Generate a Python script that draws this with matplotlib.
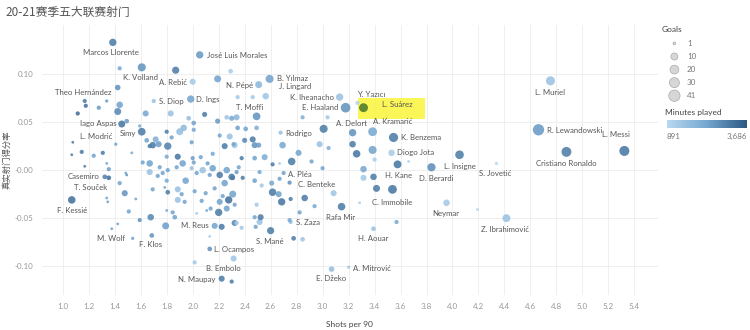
import numpy as np
import matplotlib
matplotlib.use('Agg')
import matplotlib.pyplot as plt
from matplotlib.colors import LinearSegmentedColormap, Normalize
from matplotlib.patches import Rectangle
from matplotlib.colorbar import ColorbarBase

plt.rcParams['font.family'] = ['Lato', 'Noto Sans CJK SC', 'DejaVu Sans']

# labelled players
names = ['Marcos Llorente', 'José Luis Morales', 'K. Volland', 'A. Rebić', 'Theo Hernández',
         'S. Diop', 'D. Ings', 'N. Pépé', 'B. Yılmaz', 'J. Lingard',
         'T. Moffi', 'K. Iheanacho', 'Y. Yazıcı', 'L. Suárez', 'E. Haaland',
         'A. Delort', 'A. Kramarić', 'K. Benzema', 'Rodrigo', 'Diogo Jota',
         'L. Insigne', 'S. Jovetić', 'Cristiano Ronaldo', 'L. Messi', 'R. Lewandowski',
         'L. Muriel', 'A. Pléa', 'C. Benteke', 'H. Kane', 'D. Berardi',
         'C. Immobile', 'Neymar', 'Z. Ibrahimović', 'Rafa Mir', 'S. Zaza',
         'H. Aouar', 'S. Mané', 'A. Mitrović', 'E. Džeko', 'M. Reus',
         'L. Ocampos', 'B. Embolo', 'N. Maupay', 'F. Klos', 'M. Wolf',
         'F. Kessié', 'Casemiro', 'T. Souček', 'Iago Aspas', 'L. Modrić',
         'Simy']
shots = [1.385, 2.054, 1.608, 1.869, 1.423, 1.700, 1.985, 2.508, 2.592, 2.562,
         2.492, 3.131, 3.269, 3.315, 3.177, 3.231, 3.385, 3.546, 2.677, 3.531,
         4.054, 4.338, 4.877, 5.323, 4.662, 4.754, 2.700, 2.746, 3.392, 3.838,
         3.538, 3.954, 4.415, 3.146, 2.754, 3.392, 2.600, 3.200, 3.069, 2.169,
         2.131, 2.315, 2.223, 1.685, 1.538, 1.069, 1.323, 1.354, 1.454, 1.408,
         1.608]
rate = [0.133, 0.120, 0.107, 0.104, 0.086, 0.072, 0.074, 0.089, 0.095, 0.077,
        0.056, 0.076, 0.070, 0.065, 0.065, 0.039, 0.040, 0.034, 0.039, 0.018,
        0.016, 0.007, 0.019, 0.020, 0.042, 0.093, -0.003, -0.013, -0.007, 0.003,
        -0.020, -0.034, -0.050, -0.038, -0.054, -0.061, -0.063, -0.101, -0.103, -0.058,
        -0.082, -0.092, -0.113, -0.068, -0.071, -0.031, -0.007, -0.008, 0.048, 0.027,
        0.040]
goals = [12, 12, 16, 11, 7, 4, 12, 10, 16, 9,
         14, 12, 4, 21, 27, 12, 20, 23, 4, 9,
         19, 2, 29, 30, 41, 22, 4, 4, 9, 17,
         20, 9, 15, 13, 4, 5, 11, 2, 7, 8,
         5, 8, 8, 5, 2, 13, 5, 5, 10, 2,
         14]
minutes = [3000, 2500, 2600, 3000, 2600, 1500, 2300, 1800, 2300, 1400,
           2600, 1500, 1000, 2800, 2600, 2600, 2200, 3000, 1500, 1200,
           3000, 900, 3000, 3100, 2500, 1500, 2300, 2600, 3000, 2700,
           3100, 1300, 1500, 3000, 1500, 1500, 3000, 1300, 1600, 2300,
           2600, 1400, 3000, 2600, 2300, 3200, 2900, 3200, 3100, 2300,
           3000]

# the other players (no label)
other_shots = [1.438, 2.000, 2.192, 2.292, 1.169, 1.177, 1.338, 1.277, 1.438, 1.423,
               1.115, 1.638, 1.831, 2.092, 1.969, 2.008, 2.192, 2.262, 2.300, 2.338,
               1.492, 1.592, 1.646, 1.715, 1.692, 1.738, 1.669, 1.800, 1.838, 1.900,
               1.931, 2.008, 1.992, 1.808, 1.885, 1.800, 2.208, 2.285, 2.315, 2.246,
               2.154, 2.000, 1.077, 1.069, 1.146, 1.238, 1.308, 1.531, 2.346, 2.462,
               2.846, 3.038, 3.008, 2.408, 2.492, 2.346, 2.400, 2.462, 2.477, 2.508,
               2.323, 2.692, 2.815, 2.977, 3.046, 3.231, 3.262, 3.385, 3.400, 3.577,
               3.662, 2.377, 2.477, 2.554, 2.615, 2.669, 2.762, 2.915, 3.000, 2.338,
               2.385, 2.515, 2.669, 2.531, 2.477, 2.308, 2.608, 3.315, 3.315, 3.415,
               3.285, 3.085, 2.938, 2.862, 2.754, 2.823, 2.746, 2.477, 2.338, 3.569,
               2.615, 2.662, 2.685, 2.492, 2.523, 2.515, 2.377, 2.485, 2.777, 2.846,
               1.169, 1.338, 1.354, 1.438, 1.485, 1.492, 1.477, 1.338, 1.346, 1.562,
               1.508, 1.423, 1.377, 1.592, 1.677, 1.792, 1.846, 1.862, 1.800, 2.031,
               1.669, 1.731, 1.769, 1.808, 1.800, 1.785, 1.808, 1.885, 1.915, 1.885,
               1.938, 1.946, 2.015, 2.069, 2.100, 2.138, 2.108, 2.169, 2.208, 2.231,
               2.277, 2.308, 2.200, 2.262, 2.323, 2.323, 2.223, 2.131, 2.015, 2.300,
               1.669, 1.746, 1.877, 1.923, 1.992, 2.031, 2.077, 2.115, 2.154, 2.208,
               2.262, 2.300, 2.354, 2.131, 2.246, 1.615, 1.692, 2.008, 2.062, 4.192]
other_rate = [0.106, 0.092, 0.095, 0.103, 0.072, 0.067, 0.072, 0.065, 0.068, 0.061,
              0.059, 0.059, 0.059, 0.058, 0.054, 0.049, 0.051, 0.055, 0.054, 0.055,
              0.051, 0.046, 0.031, 0.032, 0.026, 0.027, 0.025, 0.040, 0.034, 0.040,
              0.044, 0.042, 0.029, 0.025, 0.014, 0.014, 0.036, 0.035, 0.027, 0.025,
              0.017, 0.0125, 0.029, 0.016, 0.019, 0.015, 0.018, 0.018, 0.076, 0.076,
              0.055, 0.055, 0.043, 0.043, 0.044, 0.044, 0.031, 0.032, 0.026, 0.026,
              0.026, 0.026, 0.018, 0.027, 0.023, 0.027, 0.017, 0.021, 0.011, 0.006,
              0.009, 0.0125, 0.0125, 0.0135, 0.006, 0.007, 0.009, 0.009, 0.002, -0.002,
              -0.008, -0.002, -0.009, -0.016, -0.011, -0.008, -0.0135, 0.001, -0.008, -0.019,
              -0.034, -0.024, -0.0375, -0.029, -0.030, -0.044, -0.052, -0.049, -0.055, -0.054,
              -0.023, -0.025, -0.033, -0.036, -0.049, -0.054, -0.060, -0.059, -0.071, -0.072,
              0.004, 0.007, 0.001, -0.0135, -0.003, -0.005, -0.024, -0.029, -0.033, -0.030,
              -0.043, -0.056, -0.061, -0.052, -0.049, -0.058, -0.044, -0.049, -0.042, -0.045,
              -0.002, -0.006, -0.003, 0.000, -0.011, -0.018, -0.023, -0.020, -0.025, -0.031,
              -0.033, -0.011, -0.022, -0.032, -0.024, -0.040, -0.042, -0.019, -0.033, -0.027,
              -0.031, -0.025, -0.044, -0.040, -0.036, -0.055, -0.059, -0.069, -0.096, -0.116,
              0.007, 0.003, 0.003, 0.007, 0.002, -0.003, 0.000, 0.007, 0.002, -0.005,
              0.000, -0.007, 0.003, -0.005, -0.0135, 0.008, -0.020, 0.008, 0.0135, -0.041]
other_goals = [4, 8, 10, 5, 4, 4, 2, 4, 9, 10,
               4, 8, 8, 6, 5, 5, 6, 5, 6, 8,
               5, 2, 5, 8, 9, 8, 4, 4, 4, 10,
               9, 4, 4, 12, 8, 4, 4, 8, 4, 8,
               4, 4, 1, 1, 4, 4, 4, 1, 4, 4,
               4, 4, 16, 5, 5, 5, 6, 8, 8, 6,
               8, 9, 8, 8, 4, 9, 13, 16, 4, 15,
               1, 4, 5, 8, 4, 1, 13, 4, 4, 4,
               4, 4, 4, 4, 5, 5, 6, 9, 8, 10,
               1, 8, 4, 9, 4, 4, 4, 4, 4, 4,
               13, 8, 12, 4, 8, 8, 4, 4, 5, 5,
               1, 1, 4, 4, 1, 1, 8, 1, 1, 1,
               4, 1, 1, 4, 9, 10, 4, 5, 1, 1,
               8, 4, 4, 4, 4, 1, 5, 8, 4, 8,
               4, 9, 4, 4, 4, 4, 1, 4, 8, 4,
               12, 10, 12, 8, 4, 8, 8, 1, 4, 4,
               9, 4, 4, 9, 4, 4, 9, 4, 9, 9,
               9, 9, 4, 4, 9, 4, 4, 4, 4, 1]
other_minutes = [2200, 1300, 2300, 1200, 3000, 3200, 2400, 2500, 2300, 2800,
                 3300, 2200, 1500, 3000, 1600, 2300, 2500, 1400, 2200, 1800,
                 2400, 2200, 2300, 2000, 3000, 2400, 3000, 3000, 2300, 1600,
                 1700, 2200, 2300, 2900, 3100, 2200, 2300, 1500, 2300, 3000,
                 2200, 2400, 3000, 3000, 3000, 2300, 3000, 2200, 1300, 1300,
                 2000, 1300, 3000, 2300, 2000, 2300, 2800, 3000, 2600, 2400,
                 1400, 2200, 2300, 1500, 2000, 3000, 3100, 2300, 1200, 3100,
                 1100, 3000, 2300, 2100, 3000, 1300, 3000, 2300, 2300, 2400,
                 3000, 2200, 2300, 1300, 2300, 3000, 2200, 2200, 1300, 3000,
                 1100, 1400, 2200, 3000, 3000, 2300, 2200, 2300, 1300, 2200,
                 3000, 2300, 3100, 1300, 3000, 1500, 1300, 2300, 3000, 1400,
                 3000, 2300, 2400, 2300, 2300, 2600, 2600, 2300, 2300, 2300,
                 2300, 2300, 2300, 2600, 2800, 2400, 2300, 2300, 2300, 1300,
                 1500, 2300, 2300, 2300, 2200, 2300, 3000, 1500, 2300, 1500,
                 2300, 2300, 2300, 2300, 2300, 2300, 2300, 2300, 2300, 2300,
                 3200, 2300, 3000, 2300, 2300, 2800, 3000, 1200, 1300, 3000,
                 2300, 2300, 2300, 2300, 1500, 2300, 1500, 2300, 2300, 3000,
                 2300, 3000, 2300, 2300, 2300, 2300, 2300, 2300, 2300, 1000]

legend_goals = [1, 10, 20, 30, 41]
min_lo, min_hi = 891, 3686
highlight = 'L. Suárez'

# label offsets in pixels (dx, dy down), alignment
label_pos = {
    'Marcos Llorente': (-2, 10, 'center'), 'José Luis Morales': (7, 1, 'left'),
    'K. Volland': (-1, 10, 'center'), 'A. Rebić': (-3, 12, 'center'),
    'Theo Hernández': (-34, 5, 'center'), 'S. Diop': (5, 1, 'left'),
    'D. Ings': (5, 0, 'left'), 'N. Pépé': (-6, 1, 'right'),
    'B. Yılmaz': (7, 0, 'left'), 'J. Lingard': (13, -10, 'left'),
    'T. Moffi': (-7, -9, 'center'), 'K. Iheanacho': (-6, 0, 'right'),
    'Y. Yazıcı': (14, -8, 'center'), 'L. Suárez': (18, -3, 'left'),
    'E. Haaland': (-7, 0, 'right'), 'A. Delort': (-1, -9, 'center'),
    'A. Kramarić': (20, -10, 'center'), 'K. Benzema': (7, 0, 'left'),
    'Rodrigo': (5, 1, 'left'), 'Diogo Jota': (5, 0, 'left'),
    'L. Insigne': (0, 12, 'center'), 'S. Jovetić': (-1, 10, 'center'),
    'Cristiano Ronaldo': (0, 12, 'center'), 'L. Messi': (-8, -16, 'center'),
    'R. Lewandowski': (9, 1, 'left'), 'L. Muriel': (0, 12, 'center'),
    'A. Pléa': (4, 1, 'left'), 'C. Benteke': (8, 2, 'left'),
    'H. Kane': (11, -1, 'left'), 'D. Berardi': (5, 11, 'center'),
    'C. Immobile': (0, 13, 'center'), 'Neymar': (-1, 11, 'center'),
    'Z. Ibrahimović': (-1, 11, 'center'), 'Rafa Mir': (-1, 11, 'center'),
    'S. Zaza': (5, 0, 'left'), 'H. Aouar': (0, 10, 'center'),
    'S. Mané': (-1, 11, 'center'), 'A. Mitrović': (4, 1, 'left'),
    'E. Džeko': (0, 9, 'center'), 'M. Reus': (-6, 0, 'right'),
    'L. Ocampos': (4, 1, 'left'), 'B. Embolo': (-10, 10, 'center'),
    'N. Maupay': (-6, 1, 'right'), 'F. Klos': (-1, 9, 'center'),
    'M. Wolf': (-8, 0, 'right'), 'F. Kessié': (0, 11, 'center'),
    'Casemiro': (-5, 0, 'right'), 'T. Souček': (-18, 10, 'center'),
    'Iago Aspas': (-5, -1, 'right'), 'L. Modrić': (-3, -8, 'right'),
    'Simy': (-6, 2, 'right'),
}

cmap = LinearSegmentedColormap.from_list('tab_blue', ['#b8d8ef', '#75a6d0', '#2a5783'])
norm = Normalize(min_lo, min_hi)


def size_of(g):
    d = np.interp(g, [1, 10, 20, 30, 41], [2.8, 7.0, 8.8, 10.0, 11.3])
    return (d * 0.72) ** 2


fig = plt.figure(figsize=(7.5, 3.3), dpi=100)
ax = fig.add_axes([0.056, 0.106, 0.821, 0.818])

all_x = other_shots + shots
all_y = other_rate + rate
all_g = other_goals + goals
all_m = other_minutes + minutes
all_n = [''] * len(other_shots) + names
cols = [cmap(norm(m)) for m in all_m]
for i, n in enumerate(all_n):
    if n == highlight:
        cols[i] = '#4b7b2b'

# yellow highlight box behind Suárez
hi = names.index(highlight)
ax.add_patch(Rectangle((shots[hi] - 0.04, rate[hi] - 0.0115), 0.51, 0.0215,
                       facecolor='#fbf53a', edgecolor='none', alpha=0.85, zorder=1))

order = np.argsort(all_g)[::-1]
ax.scatter(np.array(all_x)[order], np.array(all_y)[order],
           s=size_of(np.array(all_g)[order]), c=[cols[i] for i in order],
           alpha=0.88, edgecolors='none', zorder=3)

for n, x, y in zip(names, shots, rate):
    dx, dy, ha = label_pos[n]
    ax.annotate(n, (x, y), xytext=(dx * 0.72, -dy * 0.72), textcoords='offset points',
                ha=ha, va='center', fontsize=5.6, color='#555555', zorder=4)

ax.set_xlim(0.84, 5.58)
ax.set_ylim(-0.130, 0.151)
xt = np.round(np.arange(1.0, 5.41, 0.2), 1)
ax.set_xticks(xt)
ax.set_xticklabels([f'{v:.1f}' for v in xt])
yt = [0.10, 0.05, 0.0, -0.05, -0.10]
ax.set_yticks(yt)
ax.set_yticklabels(['0.10', '0.05', '-0.00', '-0.05', '-0.10'])
ax.tick_params(length=0, labelsize=5.8, labelcolor='#999999', pad=6)
ax.grid(True, color='#ececec', lw=0.6)
ax.set_axisbelow(True)
for s in ax.spines.values():
    s.set_visible(False)
ax.set_xlabel('Shots per 90', fontsize=6, color='#444444', labelpad=8)
ax.set_ylabel('真实射门得分率', fontsize=6, color='#555555',
              family=['Noto Sans CJK SC', 'DejaVu Sans'])
ax.yaxis.set_label_coords(-0.05, 0.5)

fig.text(0.007, 0.963, '20-21赛季五大联赛射门', fontsize=8.5, color='#555555', va='center',
         family=['Noto Sans CJK SC', 'DejaVu Sans'])

# goals size legend
lax = fig.add_axes([0.88, 0.69, 0.12, 0.23])
lax.set_xlim(0, 1)
lax.set_ylim(len(legend_goals) - 0.5, -1.3)
lax.axis('off')
lax.scatter([0.16] * len(legend_goals), range(len(legend_goals)), s=size_of(np.array(legend_goals)),
            color='#d6d6d6', edgecolors='#aaaaaa', linewidths=0.5)
for i, g in enumerate(legend_goals):
    lax.text(0.3, i, str(g), fontsize=5.8, color='#777777', va='center')
lax.text(0.02, -1.1, 'Goals', fontsize=6, color='#444444', va='center')

# minutes colour legend
fig.text(0.887, 0.658, 'Minutes played', fontsize=6, color='#444444', va='center')
cax = fig.add_axes([0.889, 0.612, 0.107, 0.024])
cb = ColorbarBase(cax, cmap=cmap, norm=norm, orientation='horizontal')
cb.set_ticks([])
cb.outline.set_visible(False)
fig.text(0.889, 0.585, f'{min_lo}', fontsize=5.8, color='#777777', va='center')
fig.text(0.996, 0.585, f'{min_hi:,}', fontsize=5.8, color='#777777', va='center', ha='right')

fig.savefig('out.png', dpi=100)
